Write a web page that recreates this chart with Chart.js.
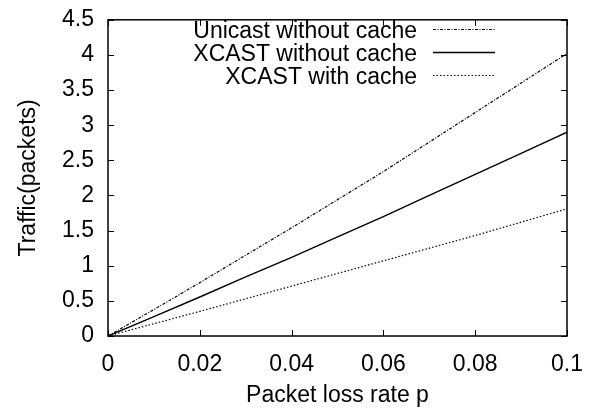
<!DOCTYPE html>
<html>
<head>
<meta charset="utf-8">
<script src="https://cdn.jsdelivr.net/npm/chart.js@4/dist/chart.umd.min.js"></script>
<style>
  html, body { margin: 0; padding: 0; background: #fff; }
  #wrap { width: 599px; height: 414px; }
</style>
</head>
<body>
<div id="wrap"><canvas id="trafficChart" width="599" height="414"></canvas></div>
<script>
// packet loss rate p
const lossRates = [0, 0.01, 0.02, 0.03, 0.04, 0.05, 0.06, 0.07, 0.08, 0.09, 0.1];

// traffic (packets)
const unicastNoCache = [0, 0.375, 0.76, 1.15, 1.54, 1.94, 2.34, 2.76, 3.18, 3.6, 4.02];
const xcastNoCache   = [0, 0.275, 0.555, 0.84, 1.12, 1.41, 1.70, 2.0, 2.3, 2.6, 2.9];
const xcastCache     = [0, 0.175, 0.35, 0.53, 0.71, 0.89, 1.07, 1.25, 1.43, 1.62, 1.81];

const seriesNames = ['Unicast without cache', 'XCAST without cache', 'XCAST with cache'];

const FONT = 'Liberation Sans, Arial, sans-serif';
const FONT_SIZE = 23;

const toPoints = ys => lossRates.map((x, i) => ({ x: x, y: ys[i] }));

// gnuplot style: ticks pointing inward on all four sides, closed box
const boxTicks = {
    id: 'boxTicks',
    afterDatasetsDraw(chart) {
        const { ctx, chartArea: a, scales } = chart;
        const len = 6;
        ctx.save();
        ctx.strokeStyle = '#000';
        ctx.lineWidth = 1;
        scales.x.ticks.forEach(t => {
            const px = Math.round(scales.x.getPixelForValue(t.value)) + 0.5;
            ctx.beginPath();
            ctx.moveTo(px, a.bottom); ctx.lineTo(px, a.bottom - len);
            ctx.moveTo(px, a.top); ctx.lineTo(px, a.top + len);
            ctx.stroke();
        });
        scales.y.ticks.forEach(t => {
            const py = Math.round(scales.y.getPixelForValue(t.value)) + 0.5;
            ctx.beginPath();
            ctx.moveTo(a.left, py); ctx.lineTo(a.left + len, py);
            ctx.moveTo(a.right, py); ctx.lineTo(a.right - len, py);
            ctx.stroke();
        });
        ctx.lineWidth = 1.5;
        ctx.strokeRect(a.left, a.top, a.right - a.left, a.bottom - a.top);
        ctx.restore();
    }
};

// key in the upper part, text right aligned, sample line on the right
const keyBox = {
    id: 'keyBox',
    afterDraw(chart) {
        const ctx = chart.ctx;
        const textRight = 417, lineStart = 433, lineEnd = 495;
        const lineY = [29.5, 52.5, 75.5];
        ctx.save();
        ctx.font = FONT_SIZE + 'px ' + FONT;
        ctx.fillStyle = '#000';
        ctx.textAlign = 'right';
        ctx.textBaseline = 'alphabetic';
        chart.data.datasets.forEach((ds, i) => {
            ctx.fillText(ds.label, textRight, lineY[i] + 8.5);
            ctx.beginPath();
            ctx.setLineDash(ds.borderDash || []);
            ctx.lineWidth = ds.borderWidth;
            ctx.strokeStyle = ds.borderColor;
            ctx.moveTo(lineStart, lineY[i]);
            ctx.lineTo(lineEnd, lineY[i]);
            ctx.stroke();
        });
        ctx.restore();
    }
};

const ctx = document.getElementById('trafficChart').getContext('2d');

new Chart(ctx, {
    type: 'line',
    data: {
        datasets: [
            {
                label: seriesNames[0],
                data: toPoints(unicastNoCache),
                borderColor: '#000',
                borderWidth: 1.2,
                borderDash: [3, 1.5, 1, 1.5]
            },
            {
                label: seriesNames[1],
                data: toPoints(xcastNoCache),
                borderColor: '#000',
                borderWidth: 1.4
            },
            {
                label: seriesNames[2],
                data: toPoints(xcastCache),
                borderColor: '#000',
                borderWidth: 1.2,
                borderDash: [1.5, 2]
            }
        ]
    },
    options: {
        responsive: false,
        animation: false,
        layout: { padding: { top: 12, right: 32, left: 0, bottom: 0 } },
        elements: {
            point: { radius: 0 },
            line: { tension: 0, fill: false }
        },
        plugins: {
            legend: { display: false },
            tooltip: { enabled: false }
        },
        scales: {
            x: {
                type: 'linear',
                min: 0,
                max: 0.1,
                grid: { display: false },
                border: { display: false },
                afterFit: scale => { scale.height = 78; },
                ticks: {
                    stepSize: 0.02,
                    padding: 7,
                    color: '#000',
                    font: { family: FONT, size: FONT_SIZE },
                    maxRotation: 0,
                    callback: v => String(+v.toFixed(2))
                },
                title: {
                    display: true,
                    text: 'Packet loss rate p',
                    color: '#000',
                    padding: 5,
                    font: { family: FONT, size: FONT_SIZE }
                }
            },
            y: {
                min: 0,
                max: 4.5,
                grid: { display: false },
                border: { display: false },
                afterFit: scale => { scale.width = 108; },
                ticks: {
                    stepSize: 0.5,
                    padding: 6,
                    color: '#000',
                    font: { family: FONT, size: FONT_SIZE },
                    callback: v => String(+v.toFixed(1))
                },
                title: {
                    display: true,
                    text: 'Traffic(packets)',
                    color: '#000',
                    padding: 15,
                    font: { family: FONT, size: FONT_SIZE }
                }
            }
        }
    },
    plugins: [boxTicks, keyBox]
});
</script>
</body>
</html>
